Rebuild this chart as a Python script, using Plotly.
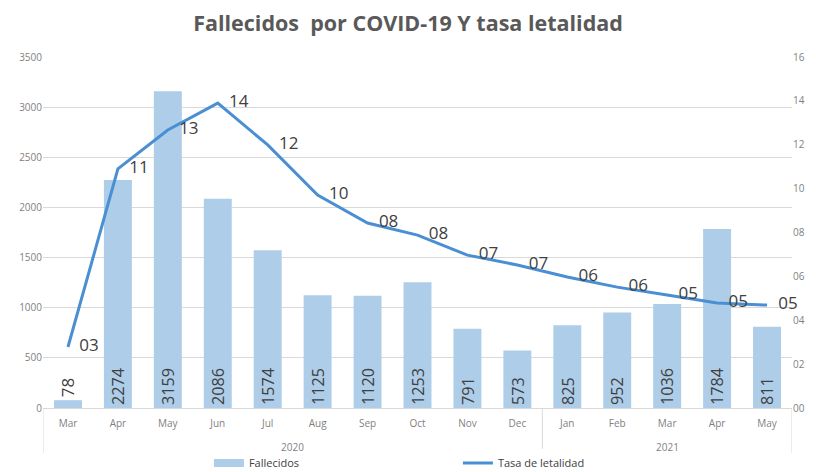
import plotly.graph_objects as go

months = ["Mar", "Apr", "May", "Jun", "Jul", "Aug", "Sep", "Oct", "Nov", "Dec",
          "Jan", "Feb", "Mar", "Apr", "May"]
years = ["2020"] * 10 + ["2021"] * 5
fallecidos = [78, 2274, 3159, 2086, 1574, 1125, 1120, 1253, 791, 573,
              825, 952, 1036, 1784, 811]
tasa = [2.78, 10.9, 12.67, 13.9, 11.99, 9.71, 8.43, 7.88, 6.97, 6.52,
        5.97, 5.51, 5.15, 4.79, 4.69]
right_ticks = [0, 2, 4, 6, 8, 10, 12, 14, 16]

# unique category keys (year + month), shown with month names only
keys = [f"{y}-{m}" for y, m in zip(years, months)]
bar_pos = ["outside" if v < 300 else "inside" for v in fallecidos]

BAR_COLOR = "#aecde9"
LINE_COLOR = "#4a8fd3"
GRID = "#d9d9d9"
PAD = "\u2002\u2009"  # gap between line point and its label

fig = go.Figure()
fig.add_trace(go.Bar(
    x=keys, y=fallecidos, name="Fallecidos", showlegend=False,
    marker=dict(color=BAR_COLOR, line=dict(width=0)),
    text=[str(v) for v in fallecidos], textposition=bar_pos,
    insidetextanchor="start", textangle=-90,
    textfont=dict(size=17, color="#404040", family="Open Sans"),
    cliponaxis=False,
))
# legend proxy for the bars (wide flat swatch like the original)
fig.add_trace(go.Scatter(
    x=[keys[0]], y=[None], name="Fallecidos", yaxis="y2",
    mode="lines", line=dict(color=BAR_COLOR, width=8), hoverinfo="skip",
))
fig.add_trace(go.Scatter(
    x=keys, y=tasa, name="Tasa de letalidad", yaxis="y2",
    mode="lines+text", line=dict(color=LINE_COLOR, width=3),
    text=[PAD + f"{v:02.0f}" for v in tasa], textposition="middle right",
    textfont=dict(size=17, color="#404040", family="Open Sans"),
    cliponaxis=False,
))

# year group labels and dividers
groups = []
for i, y in enumerate(years):
    if not groups or groups[-1][0] != y:
        groups.append([y, i, i])
    else:
        groups[-1][2] = i
for y, start, end in groups:
    fig.add_annotation(x=(start + end) / 2, xref="x", y=-0.111, yref="paper",
                       text=y, showarrow=False, yanchor="middle",
                       font=dict(size=10, color="#7f7f7f"))
bounds = [groups[0][1] - 0.5] + [end + 0.5 for _, _, end in groups]
for b in bounds:
    fig.add_shape(type="line", xref="x", yref="paper", x0=b, x1=b, y0=0, y1=-0.128,
                  line=dict(color=GRID, width=1))

fig.update_layout(
    width=816, height=472,
    margin=dict(l=43, r=24, t=57, b=64, autoexpand=False),
    paper_bgcolor="white", plot_bgcolor="white",
    font=dict(family="Open Sans", color="#595959"),
    title=dict(text="<b>Fallecidos  por COVID-19 Y tasa letalidad</b>",
               x=0.5, xanchor="center", y=1 - 23 / 472, yanchor="middle",
               font=dict(size=21.5, color="#595959", family="Open Sans")),
    bargap=0.44,
    showlegend=True,
    legend=dict(orientation="h", x=0.2215, xanchor="left",
                y=-0.157, yanchor="middle", entrywidth=204,
                font=dict(size=11, color="#404040"), itemwidth=30),
    xaxis=dict(type="category", range=[-0.5, len(keys) - 0.5],
               tickvals=keys, ticktext=months,
               showgrid=False, showline=True,
               linecolor=GRID, linewidth=1, ticks="", automargin=False,
               ticklabelstandoff=6,
               tickfont=dict(size=10, color="#7f7f7f")),
    yaxis=dict(range=[0, 3500], dtick=500, showgrid=True, gridcolor=GRID,
               gridwidth=1, zeroline=False, showline=False, ticks="",
               automargin=False,
               tickfont=dict(size=10, color="#7f7f7f")),
    yaxis2=dict(range=[0, 16], overlaying="y", side="right",
                tickvals=right_ticks, ticktext=[f"{v:02d}" for v in right_ticks],
                showgrid=False, zeroline=False, showline=False, ticks="",
                automargin=False,
                tickfont=dict(size=10, color="#7f7f7f")),
)

fig.write_html("out.html", config={"displayModeBar": False},
               post_script="document.body.style.margin='0';document.body.style.overflow='hidden';")
